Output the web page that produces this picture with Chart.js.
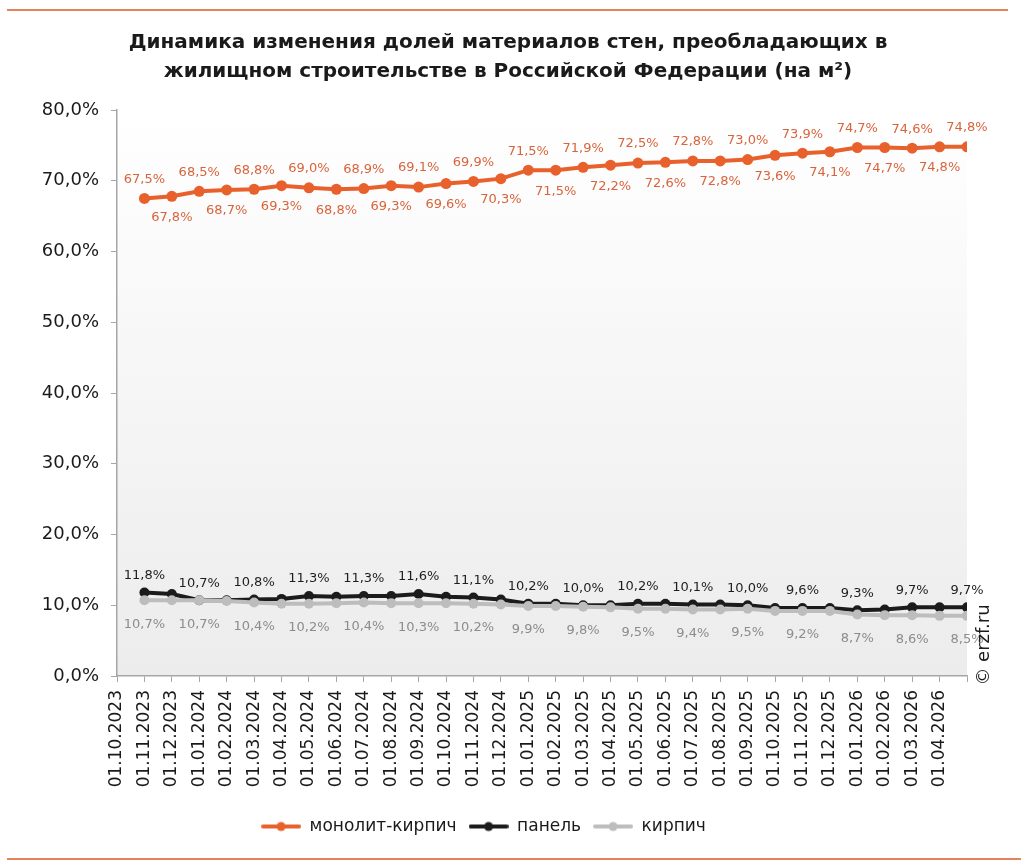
<!DOCTYPE html>
<html>
<head>
<meta charset="utf-8">
<script src="https://cdn.jsdelivr.net/npm/chart.js@4.4.1/dist/chart.umd.min.js"></script>
<style>
  html, body { margin: 0; padding: 0; background: #fff; }
  #chart { display: block; }
</style>
</head>
<body>
<canvas id="chart" width="1028" height="868"></canvas>
<script>
// Даты (подписи оси X)
const dates = [
    '01.10.2023', '01.11.2023', '01.12.2023', '01.01.2024', '01.02.2024', '01.03.2024',
    '01.04.2024', '01.05.2024', '01.06.2024', '01.07.2024', '01.08.2024', '01.09.2024',
    '01.10.2024', '01.11.2024', '01.12.2024', '01.01.2025', '01.02.2025', '01.03.2025',
    '01.04.2025', '01.05.2025', '01.06.2025', '01.07.2025', '01.08.2025', '01.09.2025',
    '01.10.2025', '01.11.2025', '01.12.2025', '01.01.2026', '01.02.2026', '01.03.2026',
    '01.04.2026'
];

// Доли материалов стен, %
const monolith = [
    67.5, 67.8, 68.5, 68.7, 68.8, 69.3, 69.0, 68.8, 68.9, 69.3, 69.1, 69.6, 69.9, 70.3, 71.5, 71.5,
    71.9, 72.2, 72.5, 72.6, 72.8, 72.8, 73.0, 73.6, 73.9, 74.1, 74.7, 74.7, 74.6, 74.8, 74.8
];
const panel = [
    11.8, 11.6, 10.7, 10.7, 10.8, 10.9, 11.3, 11.2, 11.3, 11.3, 11.6, 11.2, 11.1, 10.8, 10.2, 10.2,
    10.0, 10.0, 10.2, 10.2, 10.1, 10.1, 10.0, 9.6, 9.6, 9.6, 9.3, 9.4, 9.7, 9.7, 9.7
];
const brick = [
    10.7, 10.7, 10.7, 10.6, 10.4, 10.2, 10.2, 10.3, 10.4, 10.3, 10.3, 10.3, 10.2, 10.1, 9.9, 9.9,
    9.8, 9.7, 9.5, 9.5, 9.4, 9.4, 9.5, 9.2, 9.2, 9.2, 8.7, 8.6, 8.6, 8.5, 8.5
];

const seriesNames = ['монолит-кирпич', 'панель', 'кирпич'];
const yTickStep = 10;
const yMax = 80;

const ORANGE = '#E8612C';
const BLACK = '#1b1b1b';
const GREY = '#bdbdbd';
const FONT = '"DejaVu Sans", sans-serif';

const fmt = v => v.toFixed(1).replace('.', ',') + '%';
const toPoints = arr => arr.map((v, i) => ({ x: i + 1, y: v }));

// Sample "line with dot" for legend
const legendSample = (color) => {
    const c = document.createElement('canvas');
    c.width = 40;
    c.height = 12;
    const g = c.getContext('2d');
    g.strokeStyle = color;
    g.lineWidth = 4;
    g.lineCap = 'round';
    g.beginPath();
    g.moveTo(2, 6);
    g.lineTo(38, 6);
    g.stroke();
    g.fillStyle = color;
    g.beginPath();
    g.arc(20, 6, 4.5, 0, Math.PI * 2);
    g.fill();
    return c;
};

// Background gradient inside plot area
const plotBackground = {
    id: 'plotBackground',
    beforeDraw(chart) {
        const { ctx, chartArea: a } = chart;
        const grad = ctx.createLinearGradient(0, a.top, 0, a.bottom);
        grad.addColorStop(0, '#ffffff');
        grad.addColorStop(1, '#ececec');
        ctx.save();
        ctx.fillStyle = grad;
        ctx.fillRect(a.left, a.top, a.right - a.left, a.bottom - a.top);
        ctx.restore();
    }
};

// Value labels on points
const pointLabels = {
    id: 'pointLabels',
    afterDatasetsDraw(chart) {
        const { ctx } = chart;
        ctx.save();
        ctx.font = '13px ' + FONT;
        ctx.textAlign = 'center';
        ctx.textBaseline = 'middle';
        chart.data.datasets.forEach((ds, di) => {
            const meta = chart.getDatasetMeta(di);
            meta.data.forEach((pt, i) => {
                let dy = null;
                if (ds.labelMode === 'alternate') dy = i % 2 === 0 ? -19 : 21;
                else if (ds.labelMode === 'above' && i % 2 === 0) dy = -17;
                else if (ds.labelMode === 'below' && i % 2 === 0) dy = 24;
                if (dy === null) return;
                ctx.fillStyle = ds.labelColor;
                ctx.fillText(fmt(ds.data[i].y), pt.x, pt.y + dy);
            });
        });
        ctx.restore();
    }
};

// Title, frame lines and copyright
const decorations = {
    id: 'decorations',
    afterDraw(chart) {
        const { ctx } = chart;
        ctx.save();
        ctx.strokeStyle = '#E4825C';
        ctx.lineWidth = 2;
        ctx.beginPath();
        ctx.moveTo(7, 10);
        ctx.lineTo(1008, 10);
        ctx.moveTo(7, 859);
        ctx.lineTo(1021, 859);
        ctx.stroke();

        ctx.fillStyle = '#1a1a1a';
        ctx.font = 'bold 20px ' + FONT;
        ctx.textAlign = 'center';
        ctx.textBaseline = 'middle';
        ctx.fillText('Динамика изменения долей материалов стен, преобладающих в', 508, 43);
        ctx.fillText('жилищном строительстве в Российской Федерации (на м²)', 508, 72);

        ctx.translate(984, 645);
        ctx.rotate(-Math.PI / 2);
        ctx.font = '18px ' + FONT;
        ctx.fillText('© erzf.ru', 0, 0);
        ctx.restore();
    }
};

const ctx = document.getElementById('chart').getContext('2d');

window.wallChart = new Chart(ctx, {
    type: 'line',
    data: {
        datasets: [{
            label: seriesNames[0],
            data: toPoints(monolith),
            borderColor: ORANGE,
            backgroundColor: ORANGE,
            borderWidth: 4,
            pointRadius: 5.5,
            pointBorderWidth: 0,
            pointBackgroundColor: ORANGE,
            tension: 0,
            order: 2,
            labelMode: 'alternate',
            labelColor: '#D8643C',
            legendImage: legendSample(ORANGE)
        }, {
            label: seriesNames[1],
            data: toPoints(panel),
            borderColor: BLACK,
            backgroundColor: BLACK,
            borderWidth: 4,
            pointRadius: 5,
            pointBorderWidth: 0,
            pointBackgroundColor: BLACK,
            tension: 0,
            order: 1,
            labelMode: 'above',
            labelColor: '#1e1e1e',
            legendImage: legendSample(BLACK)
        }, {
            label: seriesNames[2],
            data: toPoints(brick),
            borderColor: GREY,
            backgroundColor: GREY,
            borderWidth: 4,
            pointRadius: 5,
            pointBorderWidth: 0,
            pointBackgroundColor: GREY,
            tension: 0,
            order: 0,
            labelMode: 'below',
            labelColor: '#8c8c8c',
            legendImage: legendSample(GREY)
        }]
    },
    options: {
        responsive: false,
        animation: false,
        layout: {
            padding: { top: 110, right: 61, bottom: 23, left: 0 }
        },
        plugins: {
            title: { display: false },
            tooltip: { enabled: false },
            legend: {
                position: 'bottom',
                labels: {
                    usePointStyle: true,
                    pointStyleWidth: 40,
                    padding: 12,
                    color: '#1a1a1a',
                    font: { family: FONT, size: 17 },
                    sort: (a, b) => a.datasetIndex - b.datasetIndex,
                    generateLabels: (chart) => {
                        const items = Chart.defaults.plugins.legend.labels.generateLabels(chart);
                        items.forEach(item => {
                            item.pointStyle = chart.data.datasets[item.datasetIndex].legendImage;
                        });
                        return items;
                    }
                }
            }
        },
        scales: {
            x: {
                type: 'linear',
                min: 0,
                max: dates.length,
                afterFit: (scale) => { scale.height = 130; },
                grid: {
                    drawOnChartArea: false,
                    drawTicks: true,
                    tickLength: 6,
                    color: '#a6a6a6'
                },
                border: { color: '#a6a6a6', width: 1.5 },
                ticks: {
                    stepSize: 1,
                    autoSkip: false,
                    minRotation: 90,
                    maxRotation: 90,
                    padding: 8,
                    color: '#1a1a1a',
                    font: { family: FONT, size: 17 },
                    callback: (v) => dates[v] || ''
                }
            },
            y: {
                min: 0,
                max: yMax,
                afterFit: (scale) => { scale.width = 117; },
                grid: {
                    drawOnChartArea: false,
                    drawTicks: true,
                    tickLength: 6,
                    color: '#a6a6a6'
                },
                border: { color: '#a6a6a6', width: 1.5 },
                ticks: {
                    stepSize: yTickStep,
                    padding: 12,
                    color: '#1a1a1a',
                    font: { family: FONT, size: 18 },
                    callback: (v) => fmt(v)
                }
            }
        }
    },
    plugins: [plotBackground, pointLabels, decorations]
});
</script>
</body>
</html>
